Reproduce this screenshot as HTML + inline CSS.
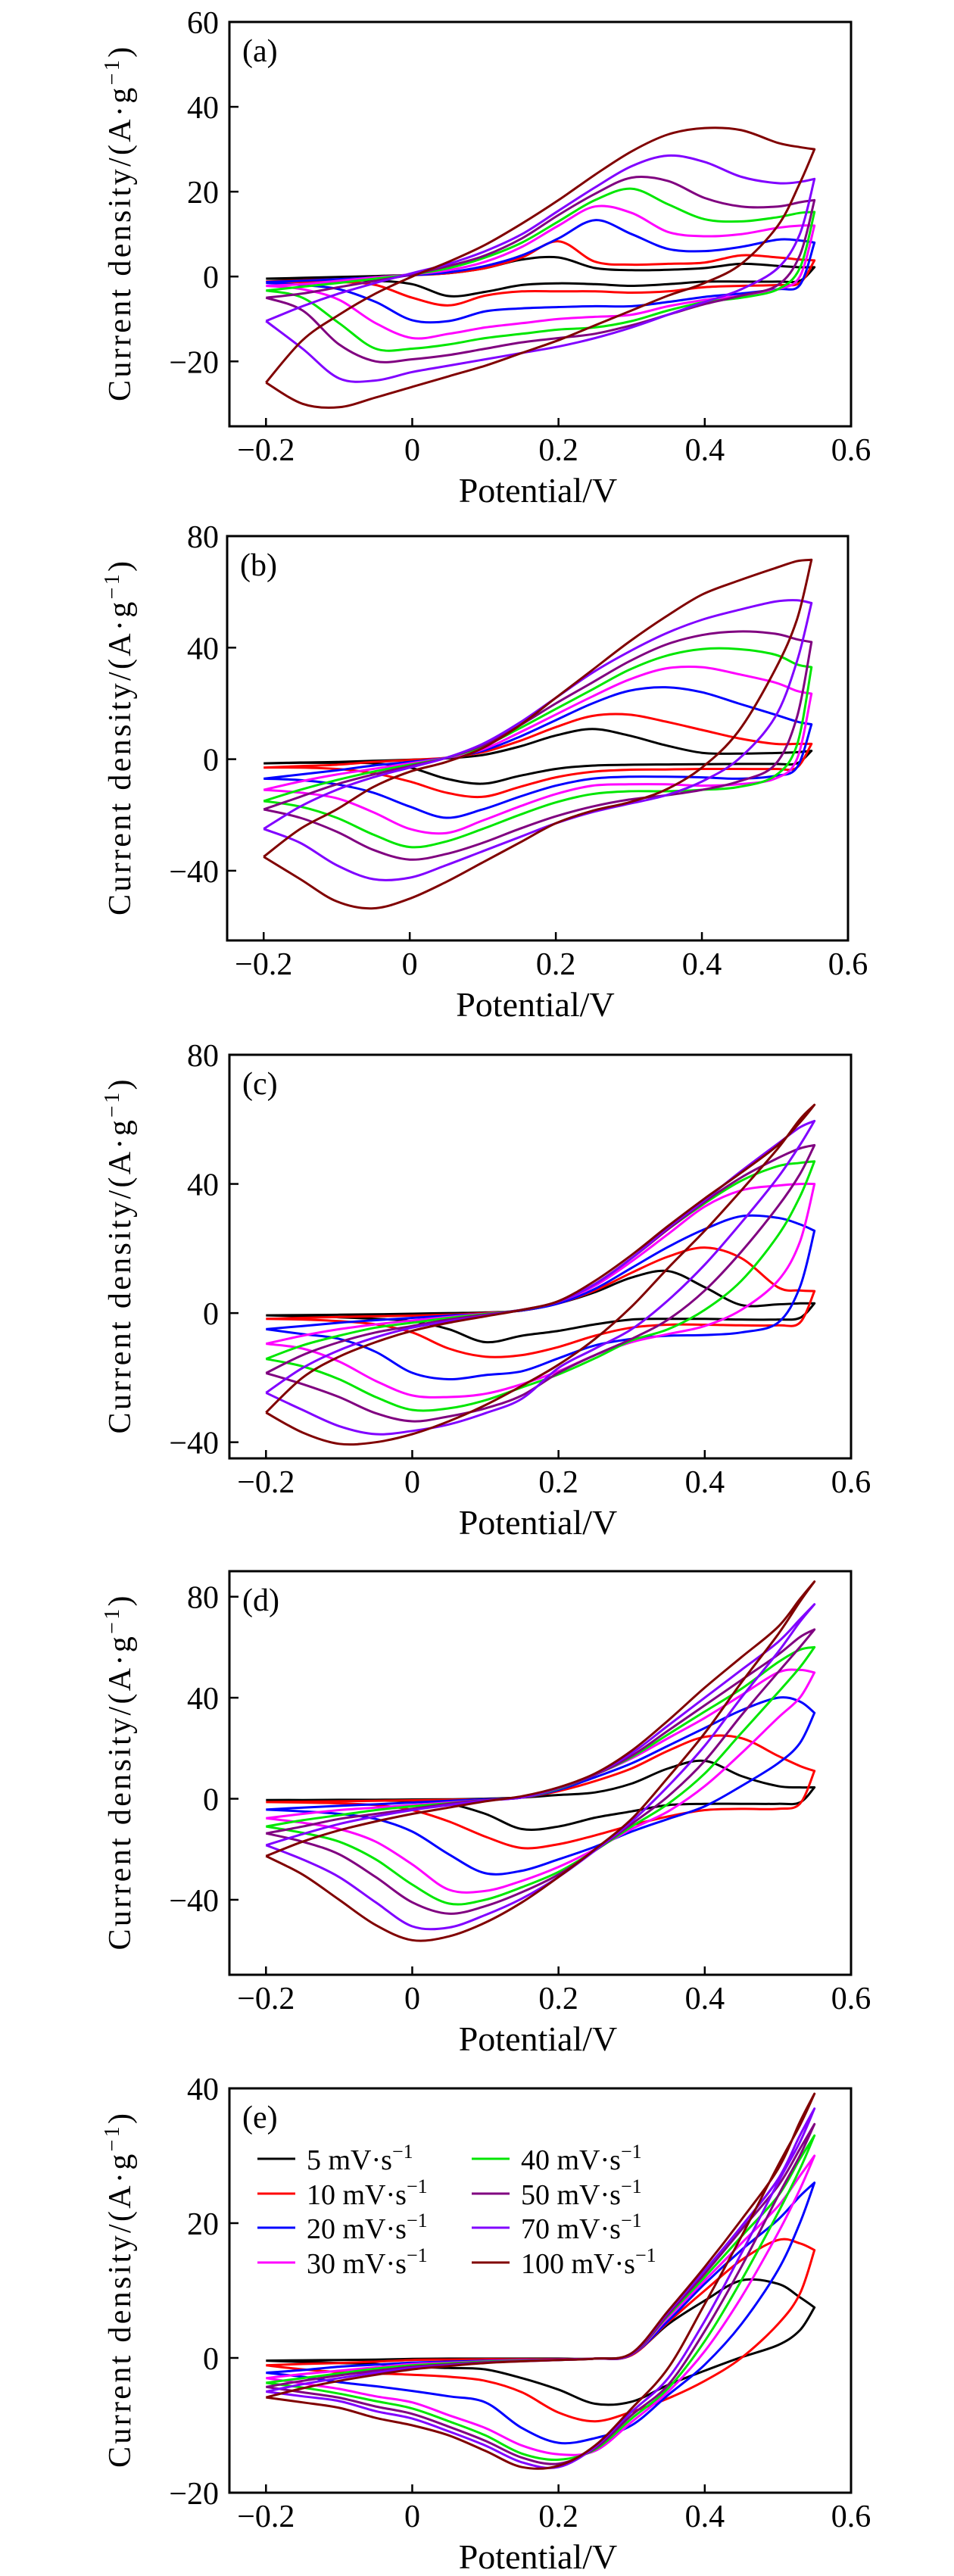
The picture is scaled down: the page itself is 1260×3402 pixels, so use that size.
<!DOCTYPE html>
<html><head><meta charset="utf-8"><style>
html,body{margin:0;padding:0;background:#fff;}
svg{display:block;}
text{font-family:"Liberation Serif",serif;fill:#000;}
</style></head><body>
<svg id="fig" width="1260" height="3402" viewBox="0 0 1260 3402" xmlns="http://www.w3.org/2000/svg"></svg>
<script>
// ---------- data ----------
const XS = [-0.2,-0.15,-0.1,-0.05,0,0.05,0.1,0.15,0.2,0.25,0.3,0.35,0.4,0.45,0.5,0.53,0.55];
const RATES = ['5','10','20','30','40','50','70','100'];
const X_TICKS = [-0.2,0,0.2,0.4,0.6];
const X_TICK_LABELS = ['\u22120.2','0','0.2','0.4','0.6'];

const A_FWD = [
 [-0.5,-0.3,-0.1,0.1,0.4,0.8,2,4,4.5,2,1.5,1.6,2,3,2.5,2.2,2.2],
 [-1.2,-0.9,-0.6,-0.2,0.3,0.8,2,4.5,8.3,3.5,2.8,3,3.3,5,4.5,4,3.8],
 [-1.3,-1,-0.6,-0.2,0.3,1,2.5,5,9,13.3,10,6.5,6,7,8.7,8.5,8],
 [-2.2,-1.8,-1,-0.2,0.5,1.5,3.5,7,12,16.5,15,10.5,9.5,10,11.5,12,12],
 [-3.3,-2.4,-1.5,-0.5,0.5,2,4.5,8,13,18,20.7,17,13.5,13,14,15,15.2],
 [-5,-4,-2.5,-1,0.5,2.5,5,9,14.5,19.5,23.3,22.5,18.5,16.5,16.5,17.5,18],
 [-10.5,-7,-4,-1.5,0.8,3,6,10,15.5,21,26,28.5,27,23.5,22,22.3,23],
 [-25,-15,-9,-4,0,3.5,7.5,12.5,18,24,29.5,33.5,35,34.5,31.5,30.5,30]];
const A_REV = [
 [-0.5,-0.6,-0.8,-1,-1.8,-4.6,-3.6,-2,-1.6,-1.8,-2.2,-1.8,-1.2,-1.2,-1.2,-1,2.2],
 [-1.2,-1.3,-1.3,-2,-5,-6.8,-4.5,-3.5,-3.5,-3.5,-3.8,-3.5,-2.5,-2.2,-2,-1.5,3.8],
 [-1.5,-2,-3,-6,-10.3,-10.5,-8.2,-7.5,-7.2,-7,-7,-6,-4.8,-4,-3,-2,8],
 [-2.2,-3,-5.5,-11,-14.5,-13.5,-12,-11,-10,-9.5,-9,-7,-5.5,-4.5,-3,0,12],
 [-3.3,-5,-11,-17,-17,-16,-14.5,-13.5,-12.5,-12,-10.5,-8,-6,-5,-3,2,15.2],
 [-5,-8,-16,-20,-19.5,-18.5,-17,-15.5,-14.5,-13.5,-11.5,-9,-6.5,-4.5,-2,5,18],
 [-10.5,-17,-24,-24.5,-22.5,-21,-19.5,-18,-16.5,-14.5,-12,-9,-6,-3,2,10,23],
 [-25,-30,-30.8,-28.5,-26,-23.5,-21,-18,-15,-11.5,-8,-4.5,-1.5,3,12,22,30]];

const B_FWD = [
 [-1.5,-1.2,-1,-0.6,-0.2,0.3,1.5,4.5,8.5,10.8,8.5,5,2.3,2,2.2,2.5,3],
 [-3,-2.5,-2,-1,-0.3,0.5,2.5,6.5,11.5,15.5,16,13.5,10.5,7.5,5.5,5.5,5.5],
 [-7,-5.5,-4,-2.3,-1,0.5,3,8,14,20,24.5,25.8,24,20,16,13.5,12.5],
 [-11,-8,-5.5,-3.5,-1.5,0.5,3.5,9.5,16,22.5,28.5,32.5,33,30.5,27.5,24.5,23.5],
 [-15,-11,-7.5,-4.5,-2,0.5,4.5,11,18,25,32,37,39.5,39.5,37.5,34,33],
 [-18,-13.5,-9,-5.5,-2.5,0.5,5,12,20,27.5,35,41,44.5,45.8,45,43,42],
 [-25,-17,-11,-6.5,-3,0.5,5.5,13,22,31,38.5,45,50,53.5,56.5,57,56],
 [-35,-25,-18,-10,-4.5,-1,4,12,22,32,42,51,59,64,68.5,71,71.5]];
const B_REV = [
 [-1.5,-1.3,-1.3,-1.5,-3,-7,-8.8,-6,-3.5,-2.3,-2,-1.9,-1.8,-1.7,-1.7,-1.5,3],
 [-3,-3,-3.5,-5,-8,-12,-13.5,-10,-6.5,-4.5,-3.8,-3.7,-3.5,-3.5,-3.5,-3,5.5],
 [-7,-7.5,-9,-12,-17,-21,-18,-13.5,-9.5,-7,-6.3,-6.3,-6.5,-7,-6,-3,12.5],
 [-11,-12,-14,-19,-25,-26.5,-22,-17,-12.5,-9.5,-9,-9,-9.5,-9,-7,0,23.5],
 [-15,-17,-21,-27,-31.5,-29.5,-25,-20,-15.5,-12.5,-11.5,-11.5,-11,-10,-6,5,33],
 [-18,-21,-26,-32.5,-36,-34,-30,-25,-20.5,-17,-14.5,-13,-11,-8,-2,15,42],
 [-25,-30,-38,-43,-42.5,-38,-33,-28,-23,-19,-16,-13,-8,0,15,35,56],
 [-35,-43,-51,-53.5,-50,-44,-37,-30,-23,-18.5,-15.5,-11,-3,10,32,50,71.5]];

const C_FWD = [
 [-0.7,-0.6,-0.5,-0.4,-0.2,0,0.2,0.8,3,6.5,11,13,8,2.5,2.7,3,3],
 [-1.8,-1.5,-1.2,-1,-0.8,-0.5,0,0.8,3,7,12.5,17.5,20.3,17,8,7,6.8],
 [-5,-4,-3,-2.2,-1.5,-0.8,-0.2,0.8,3,7.5,14,20.5,26,30,29.5,27.5,25.5],
 [-9.5,-7,-5,-3.5,-2.3,-1.2,-0.2,1,3.5,8.5,16,24.5,33,38,39.5,40,40],
 [-14.2,-10,-7,-4.5,-3,-1.5,-0.3,1,3.5,9,17,26,34,41,45.5,46.5,47],
 [-18.6,-13,-9,-6,-4,-2,-0.5,1,3.5,9,17,26,34.5,42,48,51,52],
 [-24.7,-17,-11.5,-7.5,-4.5,-2.5,-0.8,1,3.5,9,17,26.5,35,44,52.5,57.5,59.5],
 [-30.8,-20,-13.5,-9,-5.5,-3,-1,1,3.7,10,18,27,35.5,43.5,52,59,64.5]];
const C_REV = [
 [-0.7,-1,-1.3,-1.8,-2.5,-5,-9,-7,-5.5,-3.5,-2,-1.8,-1.8,-2,-2,-1.5,3],
 [-1.8,-2,-2.5,-3.5,-6,-11,-13.5,-13,-10.5,-7,-4.5,-3.6,-3.6,-3.8,-3.8,-3,6.8],
 [-5,-6.5,-8,-12,-18.5,-20.5,-19.2,-18,-14,-10,-8,-7,-6.8,-6,-3,8,25.5],
 [-9.5,-11,-15,-21,-25.5,-26,-25,-22,-18,-13,-9,-6.5,-4,1,10,22,40],
 [-14.2,-16.5,-20.5,-26,-30,-29.5,-27,-23,-19,-14,-8.5,-5,1,10,24,36,47],
 [-18.6,-22,-26,-31,-33.5,-32,-29.5,-25.5,-18.5,-13,-8,-2,7,19,33,43,52],
 [-24.7,-30,-35,-37.5,-36.5,-34.5,-31,-26.5,-17,-11,-5,4,15,28,42,52,59.5],
 [-30.8,-37,-40.5,-40,-37.5,-33.5,-28.5,-22.5,-16,-8,2,14,25.5,38,51,60,64.5]];

const D_FWD = [
 [-0.5,-0.5,-0.4,-0.4,-0.3,-0.2,0,0.5,1.5,2.5,6,12,15,9,5,4.5,4.5],
 [-1.3,-1.2,-1,-0.8,-0.6,-0.4,-0.2,0.5,3,7,12,19,24.5,24,17,13,11],
 [-4.3,-3.5,-2.8,-2.2,-1.5,-0.8,-0.2,0.5,3.5,8.5,14,21,28,35,40,38.5,34],
 [-7.7,-6,-4.5,-3.5,-2.5,-1.5,-0.5,0.5,4,9.5,16,24,32,41,50,51,50],
 [-11,-8.5,-6.5,-4.5,-3,-1.8,-0.5,0.5,4,9.5,16.5,25.5,34.5,43.5,54,59,60],
 [-13.7,-11,-8,-6,-4,-2,-0.5,0.5,4.2,9.5,17,27,37,47,57,64,67],
 [-18.4,-14,-10,-7,-4.5,-2.5,-0.7,0.5,4.3,9.8,18,29,40,51,62,71,77],
 [-22.7,-17,-12.5,-9,-6,-3.5,-1,1,4.5,10,19,31,44,56,68,79,86]];
const D_REV = [
 [-0.5,-0.5,-0.6,-0.7,-1,-2,-6,-12,-11,-7.5,-5,-2.5,-2,-2,-2,-1.5,4.5],
 [-1.3,-1.5,-1.8,-2.5,-4.5,-9,-15,-19.5,-18,-14.5,-10.5,-7,-4.5,-4,-4,-2,11],
 [-4.3,-5,-6,-8,-13,-22,-29.5,-28.5,-24,-19,-13,-8,-3,5,14,22,34],
 [-7.7,-9.5,-12,-17,-26,-36,-36.5,-32.5,-27,-20,-12,-5,5,18,32,40,50],
 [-11,-13.5,-17,-24,-34,-41.5,-40,-35,-29,-20.5,-11,-2,10,26,42,52,60],
 [-13.7,-17,-22,-31,-41,-45.5,-42.5,-37,-30,-20.5,-10,1,15,33,50,60,67],
 [-18.4,-24,-31,-41,-50.5,-51,-46,-39.5,-31,-20.5,-9,5,21,40,58,70,77],
 [-22.7,-30,-40,-50,-56,-54.5,-49,-41,-31,-20,-8,8.5,26,46,65,78,86]];

const E_FWD = [
 [-0.4,-0.35,-0.3,-0.25,-0.15,-0.1,-0.1,-0.1,-0.1,-0.1,0.5,5,8.5,11.5,11,9,7.5],
 [-1.1,-0.9,-0.75,-0.55,-0.3,-0.25,-0.2,-0.2,-0.2,-0.1,0.4,5.3,10,14.5,17.5,17,16],
 [-2.2,-1.8,-1.3,-1,-0.7,-0.55,-0.4,-0.3,-0.25,-0.1,0.5,5.5,11,16,20.5,24,26],
 [-3,-2.4,-1.9,-1.4,-0.9,-0.7,-0.5,-0.35,-0.25,-0.1,0.5,6,11.5,17,22.5,27,30],
 [-3.7,-3,-2.3,-1.6,-1.1,-0.8,-0.55,-0.4,-0.3,-0.1,0.5,6.3,12,18,24,29.5,33],
 [-4.3,-3.4,-2.6,-1.9,-1.3,-0.95,-0.65,-0.45,-0.3,-0.1,0.5,6.5,12.5,19,25.5,31,34.7],
 [-5,-3.9,-3,-2.2,-1.5,-1.1,-0.7,-0.5,-0.3,-0.1,0.6,6.8,13,19.5,26.5,33,37],
 [-5.85,-4.5,-3.4,-2.5,-1.7,-1.2,-0.75,-0.5,-0.3,-0.1,0.7,7,13.5,20.5,28,35,39.2]];
const E_REV = [
 [-0.4,-0.6,-0.75,-0.9,-1.3,-1.5,-1.7,-3,-4.7,-6.8,-6.5,-4,-1.9,0.1,1.9,4.1,7.5],
 [-1.1,-1.7,-2.1,-2.3,-2.5,-2.8,-3.4,-5.1,-8.1,-9.4,-8,-6,-3.4,0,5,9.5,16],
 [-2.2,-2.8,-3.6,-4.2,-4.9,-5.7,-6.6,-10.4,-12.6,-11.9,-10,-5.5,-1,5,13,20,26],
 [-3,-3.8,-4.6,-5.7,-6.6,-8.5,-10.4,-13,-14.3,-13.8,-9.5,-5,1,9,18.5,25,30],
 [-3.7,-4.4,-5.3,-6.4,-7.5,-9.4,-11.5,-14.2,-15.1,-13.6,-9,-4.5,2.5,11.5,21.5,28,33],
 [-4.3,-5.1,-5.9,-7.2,-8.3,-10.2,-12.3,-14.8,-15.7,-13.4,-8.5,-4,4,13.5,24,30,34.7],
 [-5,-5.7,-6.4,-7.9,-9,-10.9,-13,-15.5,-16.2,-13.2,-8,-3,5.5,15.5,26,32,37],
 [-5.85,-6.6,-7.4,-8.9,-10,-11.5,-13.8,-16.2,-16,-13,-7.5,-1.5,8,18,28.5,34.5,39.2]];

const A_Y_TICKS = [-20,0,20,40,60];
const B_Y_TICKS = [-40,0,40,80];
const C_Y_TICKS = [-40,0,40,80];
const D_Y_TICKS = [-40,0,40,80];
const E_Y_TICKS = [-20,0,20,40];
const Y_RANGES = [[-35.3,60],[-65,80],[-45,80],[-69.7,90.1],[-20,40]];

// ---------- styling / layout ----------
const COLORS = ['#000000','#ff0000','#0000ff','#ff00ff','#00e600','#800080','#8000ff','#800000'];
const LAYOUT = [
 {id:'a', left:303, right:1124, top:29,   bottom:563},
 {id:'b', left:300, right:1120, top:708,  bottom:1242},
 {id:'c', left:303, right:1124, top:1393, bottom:1926},
 {id:'d', left:303, right:1124, top:2075, bottom:2608},
 {id:'e', left:303, right:1124, top:2758, bottom:3292}];
const PANEL_DATA = [[A_FWD,A_REV,A_Y_TICKS],[B_FWD,B_REV,B_Y_TICKS],[C_FWD,C_REV,C_Y_TICKS],[D_FWD,D_REV,D_Y_TICKS],[E_FWD,E_REV,E_Y_TICKS]];

const NS = 'http://www.w3.org/2000/svg';
const svg = document.getElementById('fig');
function mk(tag, attrs, parent){
  const e = document.createElementNS(NS, tag);
  for (const k in attrs) e.setAttribute(k, attrs[k]);
  (parent||svg).appendChild(e);
  return e;
}
function splinePath(pts, start){
  let d = (start ? 'M' : 'L') + pts[0][0].toFixed(1) + ',' + pts[0][1].toFixed(1);
  for (let i=0;i<pts.length-1;i++){
    const p0 = pts[i-1]||pts[i], p1 = pts[i], p2 = pts[i+1], p3 = pts[i+2]||pts[i+1];
    const c1x = p1[0]+(p2[0]-p0[0])/6, c1y = p1[1]+(p2[1]-p0[1])/6;
    const c2x = p2[0]-(p3[0]-p1[0])/6, c2y = p2[1]-(p3[1]-p1[1])/6;
    d += 'C'+c1x.toFixed(1)+','+c1y.toFixed(1)+' '+c2x.toFixed(1)+','+c2y.toFixed(1)+' '+p2[0].toFixed(1)+','+p2[1].toFixed(1);
  }
  return d;
}

LAYOUT.forEach((L, pi) => {
  const [FWD, REV, YT] = PANEL_DATA[pi];
  const [ymin, ymax] = Y_RANGES[pi];
  const xScale = v => L.left + (v - (-0.25)) / 0.85 * (L.right - L.left);
  const yScale = v => L.bottom - (v - ymin) / (ymax - ymin) * (L.bottom - L.top);
  const g = mk('g', {});
  
  

  const cg = mk('g', {fill:'none','stroke-width':'3','stroke-linejoin':'round'}, g);
  
  
  FWD.forEach((row, si) => {
    const fp = XS.map((x,i) => [xScale(x), yScale(row[i])]);
    const rp = XS.map((x,i) => [xScale(x), yScale(REV[si][i])]).reverse();
    const p = mk('path', {d: splinePath(fp, true) + splinePath(rp, false), stroke: COLORS[si]}, cg);
    
    
  });

  const fr = mk('rect', {x:L.left, y:L.top, width:L.right-L.left, height:L.bottom-L.top, fill:'none', stroke:'#000', 'stroke-width':'3'}, g);
  
  

  X_TICKS.forEach((t, i) => {
    const x = xScale(t);
    const tk = mk('line', {x1:x, x2:x, y1:L.bottom, y2:L.bottom-11, stroke:'#000','stroke-width':'2.5'}, g);
    
    
    const tl = mk('text', {x:x, y:L.bottom+45, 'font-size':'42','text-anchor':'middle'}, g);
    tl.textContent = X_TICK_LABELS[i];
    
    
  });
  YT.forEach(t => {
    const y = yScale(t);
    const tk = mk('line', {x1:L.left, x2:L.left+12, y1:y, y2:y, stroke:'#000','stroke-width':'2.5'}, g);
    
    
    const tl = mk('text', {x:289, y:y+15, 'font-size':'42','text-anchor':'end'}, g);
    tl.textContent = t < 0 ? '\u2212' + Math.abs(t) : String(t);
    
    
  });

  const pl = mk('text', {x:L.left+17, y:L.top+52, 'font-size':'42'}, g);
  pl.textContent = '(' + L.id + ')';
  
  

  const xt = mk('text', {x:(L.left+L.right)/2 - 3, y:L.bottom+100, 'font-size':'46','text-anchor':'middle'}, g);
  xt.textContent = 'Potential/V';
  
  

  const cy = (L.top + L.bottom)/2;
  const yt = mk('text', {transform:'translate(172,'+cy+') rotate(-90)', x:0, y:0, 'font-size':'42','text-anchor':'middle', textLength:'468', lengthAdjust:'spacing'}, g);
  
  
  const t1 = mk('tspan', {}, yt); t1.textContent = 'Current density/(A\u00b7g';
  const t2 = mk('tspan', {dy:'-15','font-size':'28'}, yt); t2.textContent = '\u22121';
  const t3 = mk('tspan', {dy:'15'}, yt); t3.textContent = ')';
});

const legend = mk('g', {});


const LEG_ROWS = [2851, 2897, 2942, 2988];
RATES.forEach((r, i) => {
  const col = Math.floor(i/4), row = i%4;
  const lx = col === 0 ? 340 : 623;
  const y = LEG_ROWS[row];
  const item = mk('g', {}, legend);
  
  
  mk('line', {x1:lx, x2:lx+50, y1:y, y2:y, stroke:COLORS[i], 'stroke-width':'3'}, item);
  const t = mk('text', {x:lx+65, y:y+14, 'font-size':'38'}, item);
  const a = mk('tspan', {}, t); a.textContent = r + ' mV\u00b7s';
  const b = mk('tspan', {dy:'-15','font-size':'26'}, t); b.textContent = '\u22121';
});
</script>
</body></html>
